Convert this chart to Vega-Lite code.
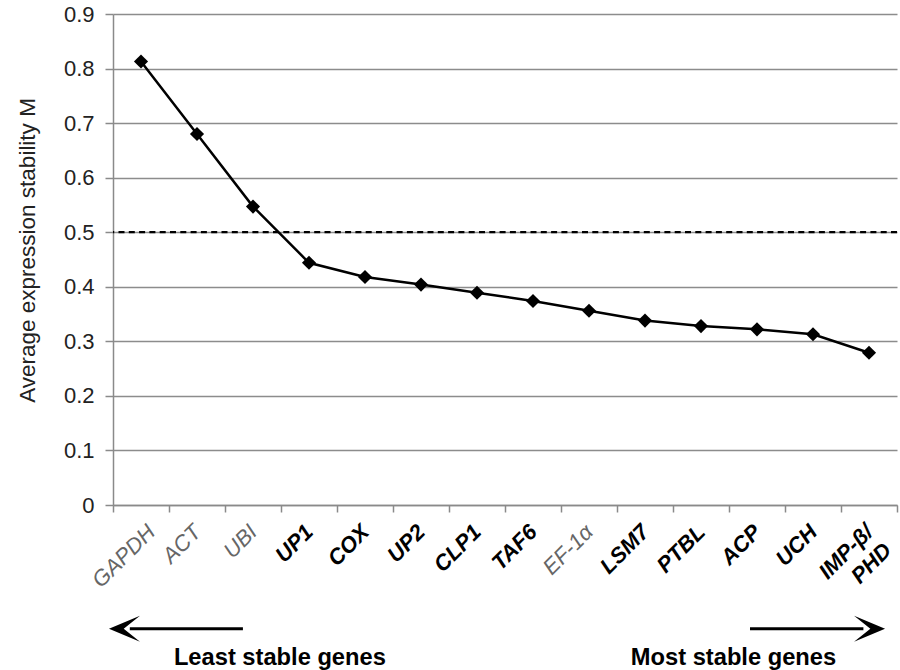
{
  "$schema": "https://vega.github.io/schema/vega-lite/v6.json",
  "width": 784,
  "height": 491,
  "autosize": {"type": "none"},
  "padding": {"left": 113, "top": 14, "right": 3, "bottom": 165},
  "background": "white",
  "config": {
    "view": {"stroke": null},
    "font": "Liberation Sans"
  },
  "datasets": {
    "genes": [
      {"gene": "GAPDH", "M": 0.813},
      {"gene": "ACT", "M": 0.680},
      {"gene": "UBI", "M": 0.547},
      {"gene": "UP1", "M": 0.444},
      {"gene": "COX", "M": 0.418},
      {"gene": "UP2", "M": 0.404},
      {"gene": "CLP1", "M": 0.389},
      {"gene": "TAF6", "M": 0.374},
      {"gene": "EF-1α", "M": 0.356},
      {"gene": "LSM7", "M": 0.338},
      {"gene": "PTBL", "M": 0.328},
      {"gene": "ACP", "M": 0.322},
      {"gene": "UCH", "M": 0.313},
      {"gene": "IMP-β/PHD", "M": 0.279}
    ],
    "arrows": [
      {"xs": 2.32, "xe": 0.3, "yv": -0.227},
      {"xs": 11.375, "xe": 13.4, "yv": -0.227}
    ],
    "heads": [
      {"hx": 0.205, "yv": -0.227, "dir": "left"},
      {"hx": 13.51, "yv": -0.227, "dir": "right"}
    ],
    "notes": [
      {"label": "Least stable genes", "tx": 2.98, "yv": -0.294},
      {"label": "Most stable genes", "tx": 11.08, "yv": -0.294}
    ]
  },
  "resolve": {"scale": {"x": "independent"}, "axis": {"x": "independent"}},
  "layer": [
    {
      "data": {"name": "genes"},
      "layer": [
        {
          "mark": {"type": "line", "color": "black", "strokeWidth": 2.5},
          "encoding": {
            "x": {
              "field": "gene", "type": "nominal", "sort": null,
              "scale": {"paddingInner": 0, "paddingOuter": 0},
              "axis": {
                "title": null,
                "domainColor": "#8a8a8a",
                "domainWidth": 1.5,
                "tickColor": "#8a8a8a",
                "tickWidth": 1.5,
                "tickSize": 7,
                "tickBand": "extent",
                "grid": false,
                "labelAngle": -45,
                "labelAlign": "right",
                "labelBaseline": "middle",
                "labelPadding": 16,
                "labelFont": "Liberation Sans",
                "labelFontSize": 22,
                "labelFontStyle": "italic",
                "labelOverlap": false,
                "labelLimit": 0,
                "labelLineHeight": 26,
                "labelExpr": "datum.label == 'IMP-β/PHD' ? ['IMP-β/', 'PHD'] : datum.label",
                "labelOffset": {"condition": {"test": "datum.value == 'GAPDH'", "value": 10}, "value": 0},
                "labelColor": {"condition": {"test": "indexof(['GAPDH','ACT','UBI','EF-1α'], datum.value) >= 0", "value": "#666666"}, "value": "#000000"},
                "labelFontWeight": {"condition": {"test": "indexof(['GAPDH','ACT','UBI','EF-1α'], datum.value) >= 0", "value": "normal"}, "value": "bold"}
              }
            },
            "y": {
              "field": "M", "type": "quantitative",
              "scale": {"domain": [0, 0.9], "nice": false, "zero": true},
              "axis": {
                "title": "Average expression stability M",
                "titleFont": "Liberation Sans",
                "titleFontSize": 22.5,
                "titleFontWeight": "normal",
                "titleColor": "#222222",
                "titlePadding": 24,
                "titleY": 236,
                "values": [0, 0.1, 0.2, 0.3, 0.4, 0.5, 0.6, 0.7, 0.8, 0.9],
                "format": ".1~f",
                "labelFont": "Liberation Sans",
                "labelFontSize": 22,
                "labelColor": "#222222",
                "labelPadding": 11,
                "tickSize": 8,
                "tickColor": "#8a8a8a",
                "tickWidth": 1.5,
                "domainColor": "#8a8a8a",
                "domainWidth": 1.5,
                "grid": true,
                "gridColor": "#8c8c8c",
                "gridWidth": 1.5
              }
            }
          }
        },
        {
          "mark": {"type": "point", "shape": "diamond", "filled": true, "color": "black", "size": 200, "opacity": 1},
          "encoding": {
            "x": {"field": "gene", "type": "nominal", "sort": null},
            "y": {"field": "M", "type": "quantitative", "scale": {"domain": [0, 0.9], "nice": false}}
          }
        }
      ]
    },
    {
      "data": {"values": [{}]},
      "mark": {"type": "rule", "color": "black", "strokeWidth": 2.2, "strokeDash": [6, 4.3]},
      "encoding": {
        "y": {"datum": 0.5, "type": "quantitative", "scale": {"domain": [0, 0.9], "nice": false}}
      }
    },
    {
      "data": {"name": "arrows"},
      "mark": {"type": "rule", "color": "black", "strokeWidth": 3},
      "encoding": {
        "x": {"field": "xs", "type": "quantitative", "scale": {"domain": [0, 14], "nice": false, "zero": false}, "axis": null},
        "x2": {"field": "xe"},
        "y": {"field": "yv", "type": "quantitative", "scale": {"domain": [0, 0.9], "nice": false}}
      }
    },
    {
      "data": {"name": "heads"},
      "mark": {"type": "point", "filled": true, "color": "black", "opacity": 1, "size": 961},
      "encoding": {
        "x": {"field": "hx", "type": "quantitative", "scale": {"domain": [0, 14], "nice": false, "zero": false}, "axis": null},
        "y": {"field": "yv", "type": "quantitative", "scale": {"domain": [0, 0.9], "nice": false}},
        "shape": {
          "field": "dir", "type": "nominal", "legend": null,
          "scale": {"domain": ["left", "right"], "range": ["M -1 0 L 1 -0.84 L -0.05 0 L 1 0.84 Z", "M 1 0 L -1 -0.84 L 0.05 0 L -1 0.84 Z"]}
        }
      }
    },
    {
      "data": {"name": "notes"},
      "mark": {"type": "text", "font": "Liberation Sans", "fontSize": 23.7, "fontWeight": "bold", "color": "black", "align": "center", "baseline": "alphabetic"},
      "encoding": {
        "x": {"field": "tx", "type": "quantitative", "scale": {"domain": [0, 14], "nice": false, "zero": false}, "axis": null},
        "y": {"field": "yv", "type": "quantitative", "scale": {"domain": [0, 0.9], "nice": false}},
        "text": {"field": "label"}
      }
    }
  ]
}
